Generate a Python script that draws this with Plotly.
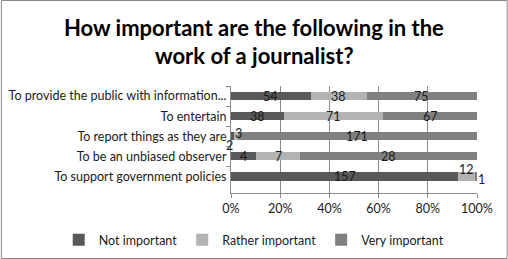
import plotly.graph_objects as go

categories = [
    "To provide the public with information...",
    "To entertain",
    "To report things as they are",
    "To be an unbiased observer",
    "To support government policies",
]
series_names = ["Not important", "Rather important", "Very important"]
not_important = [54, 38, 2, 4, 157]
rather_important = [38, 71, 3, 7, 12]
very_important = [75, 67, 171, 28, 1]
x_tick_vals = [0, 20, 40, 60, 80, 100]
x_tick_text = ["0%", "20%", "40%", "60%", "80%", "100%"]
title_lines = ["How important are the following in the", "work of a journalist?"]

colors = ["#595959", "#b3b3b3", "#808080"]
series = [not_important, rather_important, very_important]
FONT = "Lato, Carlito, sans-serif"
TXT = "#1a1a1a"

W, H = 508, 259
L, R, T, B = 230.7, 477.3, 86, 193
pw = R - L
ph = B - T

fig = go.Figure()
totals = [sum(v) for v in zip(*series)]
for name, vals, col in zip(series_names, series, colors):
    pct = [v / t * 100 for v, t in zip(vals, totals)]
    fig.add_trace(go.Bar(
        y=categories, x=pct, name=name, orientation="h",
        marker=dict(color=col, line=dict(width=0)),
        hoverinfo="skip",
    ))

# label offsets for tiny segments (style only)
offsets = {
    (2, 0): (-3, -9),
    (2, 1): (3, 3),
    (4, 1): (0, 7),
    (4, 2): (5, -3),
}
for ci, cat in enumerate(categories):
    cum = 0
    for si, vals in enumerate(series):
        p = vals[ci] / totals[ci] * 100
        mid = cum + p / 2
        cum += p
        dx, dy = offsets.get((ci, si), (0, 0))
        fig.add_annotation(
            x=mid, y=cat, text=str(vals[ci]), showarrow=False,
            xshift=dx, yshift=dy,
            font=dict(family=FONT, size=12.5, color=TXT),
        )

# title as two lines
for line, yc in zip(title_lines, [27, 55]):
    fig.add_annotation(
        x=(W / 2 - L) / pw, xref="paper", xanchor="center",
        y=(B - yc) / ph, yref="paper", yanchor="middle",
        text="<b>" + line + "</b>", showarrow=False,
        font=dict(family=FONT, size=22, color="#000000"),
    )

fig.add_shape(
    type="rect", xref="paper", yref="paper",
    x0=(0.5 - L) / pw, x1=(W - 0.5 - L) / pw,
    y0=(B - (H - 0.5)) / ph, y1=(B - 0.5) / ph,
    line=dict(color="#888888", width=1), fillcolor="rgba(0,0,0,0)", layer="below",
)

fig.update_layout(
    width=W, height=H,
    margin=dict(l=L, r=W - R, t=T, b=H - B, pad=0, autoexpand=False),
    barmode="stack", bargap=0.6,
    paper_bgcolor="white", plot_bgcolor="white",
    font=dict(family=FONT, size=12.5, color=TXT),
    xaxis=dict(
        range=[0, 100], tickvals=x_tick_vals, ticktext=x_tick_text,
        showgrid=True, gridcolor="#8c8c8c", gridwidth=1,
        showline=True, linecolor="#8c8c8c", linewidth=1,
        ticks="outside", ticklen=4, tickcolor="#8c8c8c",
        zeroline=False, fixedrange=True, automargin=False,
        tickfont=dict(size=12.5, color=TXT),
    ),
    yaxis=dict(
        autorange="reversed", type="category",
        showline=True, linecolor="#8c8c8c", linewidth=1,
        ticks="outside", ticklen=4, tickcolor="#8c8c8c", tickson="boundaries",
        showgrid=False, ticklabelstandoff=1, automargin=False,
        tickfont=dict(size=12.5, color=TXT),
    ),
    legend=dict(
        orientation="h", xref="paper", x=(58 - L) / pw, xanchor="left",
        yref="paper", y=-(240 - B) / ph, yanchor="middle",
        font=dict(size=12.5, color=TXT),
        itemwidth=30, traceorder="normal", tracegroupgap=0, itemsizing="constant",
    ),
    showlegend=True,
)

fig.write_html("out.html")
